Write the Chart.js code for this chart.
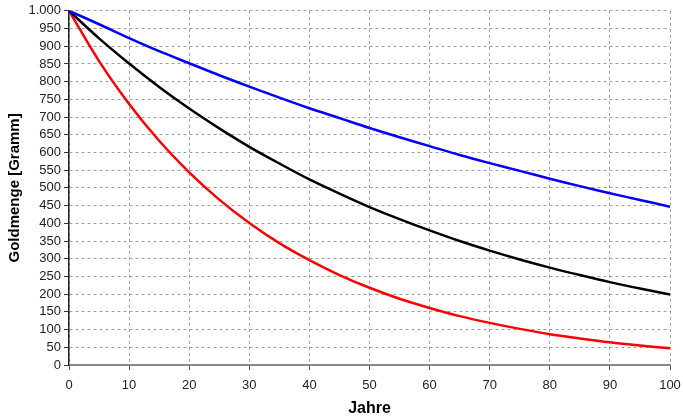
<!DOCTYPE html>
<html>
<head>
<meta charset="utf-8">
<script src="https://cdn.jsdelivr.net/npm/chart.js@4"></script>
<style>
  html, body { margin: 0; padding: 0; background: #fff; }
  #wrap { width: 683px; height: 418px; }
</style>
</head>
<body>
<div id="wrap"><canvas id="goldChart"></canvas></div>
<script>
// years on the x axis
const years = [0, 5, 10, 15, 20, 25, 30, 35, 40, 45, 50, 55, 60, 65, 70, 75, 80, 85, 90, 95, 100];
// gold amount in gramm
const blueValues = [1000, 962, 923, 886, 852, 818, 786, 755, 725, 697, 669, 643, 618, 593, 570, 548, 526, 505, 485, 466, 447];
const blackValues = [1000, 922, 851, 785, 724, 668, 616, 569, 524, 484, 446, 412, 380, 350, 323, 298, 275, 254, 234, 216, 199];
const redValues = [1000, 858, 737, 633, 544, 467, 401, 344, 296, 254, 218, 187, 161, 138, 119, 102, 87, 75, 64, 55, 47];

const font = "'Liberation Sans', Arial, sans-serif";

function toPoints(vals) {
    return years.map((y, i) => ({ x: y, y: vals[i] }));
}

function germanNumber(v) {
    return String(v).replace(/\B(?=(\d{3})+(?!\d))/g, '.');
}

const series = [
    { data: blueValues, color: '#0000ff' },
    { data: blackValues, color: '#000000' },
    { data: redValues, color: '#ff0000' },
];

new Chart('goldChart', {
    type: 'line',
    data: {
        datasets: series.map((s) => ({
            data: toPoints(s.data),
            borderColor: s.color,
            backgroundColor: s.color,
            borderWidth: 2.5,
            pointRadius: 0,
            tension: 0.3,
        })),
    },
    options: {
        responsive: true,
        maintainAspectRatio: false,
        animation: false,
        layout: { padding: { top: 9, right: 13, left: 6, bottom: 0 } },
        plugins: {
            legend: { display: false },
            tooltip: { enabled: false },
        },
        scales: {
            x: {
                type: 'linear',
                min: 0,
                max: 100,
                ticks: {
                    stepSize: 10,
                    color: '#222',
                    font: { family: font, size: 13 },
                    padding: 8,
                    maxRotation: 0,
                },
                grid: {
                    color: '#a0a0a0',
                    lineWidth: 1,
                    tickLength: 5,
                    tickColor: '#555',
                },
                border: { display: true, color: '#8a8a8a', width: 2, dash: [3, 3] },
                title: {
                    display: true,
                    text: 'Jahre',
                    color: '#000',
                    font: { family: font, size: 16, weight: 'bold' },
                    padding: { top: 6, bottom: 0 },
                },
                afterFit: (axis) => {
                    axis.height = 53;
                    axis.paddingLeft = 0;
                    axis.paddingRight = 0;
                },
            },
            y: {
                min: 0,
                max: 1000,
                ticks: {
                    stepSize: 50,
                    autoSkip: false,
                    color: '#222',
                    font: { family: font, size: 13 },
                    padding: 3,
                    callback: (v) => germanNumber(v),
                },
                grid: {
                    color: '#a0a0a0',
                    lineWidth: 1,
                    tickLength: 5,
                    tickColor: '#333',
                },
                border: { display: true, color: '#222', width: 1.5, dash: [3, 3] },
                title: {
                    display: true,
                    text: 'Goldmenge [Gramm]',
                    color: '#000',
                    font: { family: font, size: 15, weight: 'bold' },
                    padding: { top: 0, bottom: 4 },
                },
                afterFit: (axis) => { axis.width = 63; },
            },
        },
    },
});
</script>
</body>
</html>
